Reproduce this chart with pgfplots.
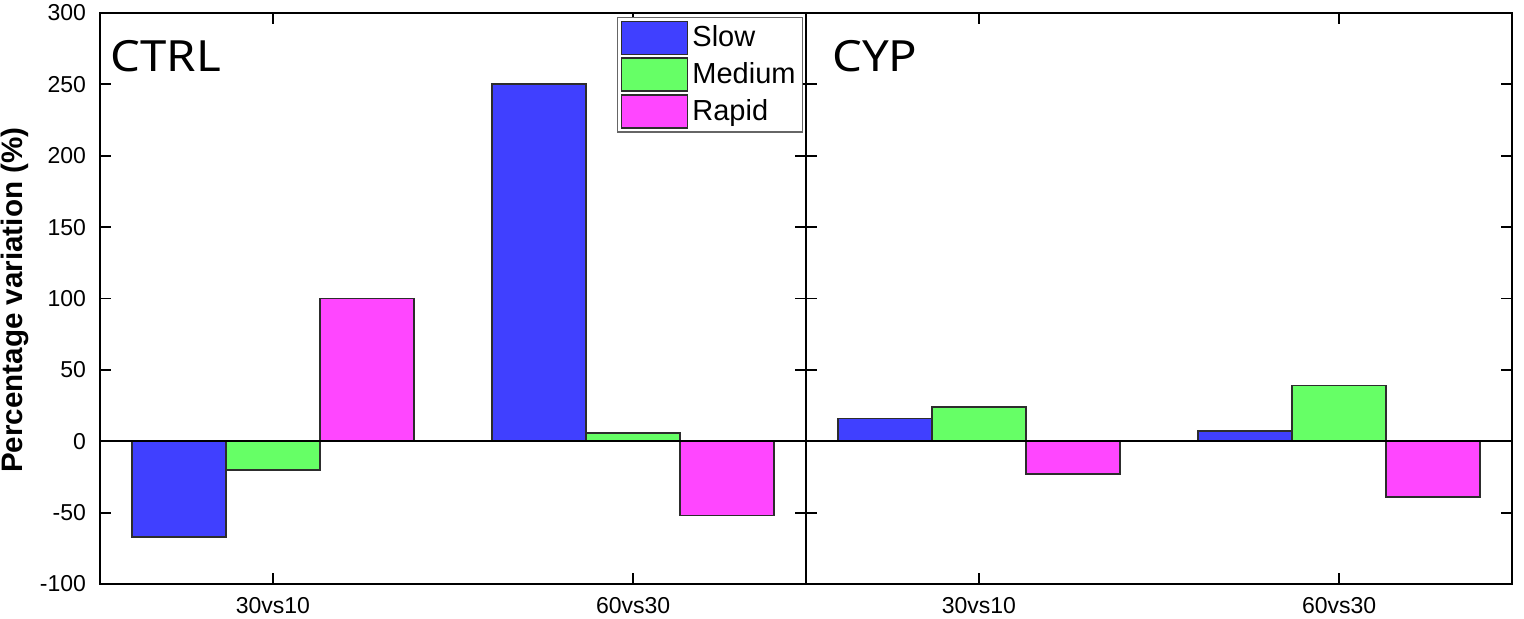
\documentclass[border=0pt]{standalone}
\usepackage{pgfplots}
\pgfplotsset{compat=1.18}
\usepgfplotslibrary{groupplots}
\usepackage{fontspec}
\setmainfont{Liberation Sans}
\newfontfamily\titlefont{Noto Sans}

\definecolor{slow}{RGB}{64,64,255}
\definecolor{medium}{RGB}{102,255,102}
\definecolor{rapid}{RGB}{255,70,255}
\definecolor{edge}{RGB}{45,45,45}

\pgfplotsset{
  panel/.style={
    scale only axis, width=353pt, height=285.5pt,
    xmin=-0.48, xmax=1.48, ymin=-100, ymax=300,
    ybar=0pt, bar width=47pt,
    xtick={0,1}, xticklabels={30vs10,60vs30},
    ytick={-100,-50,...,300},
    tick align=inside, major tick length=5.5pt,
    tick style={line width=0.9pt, black},
    axis line style={line width=0.9pt},
    every axis plot/.append style={draw=edge, line width=0.9pt},
    /pgf/number format/assume math mode=true,
    tick label style={font=\fontsize{11.5}{13}\selectfont},
    yticklabel style={xshift=-3.5pt},
    xticklabel style={yshift=-3pt},
    legend image code/.code={\draw[##1] (0pt,-8.25pt) rectangle (33pt,8.25pt);},
  },
}

\begin{document}
\begin{tikzpicture}
\begin{groupplot}[group style={group size=2 by 1, horizontal sep=0pt, y descriptions at=edge left}, panel]
\nextgroupplot[
  ylabel={\textbf{Percentage variation (\%)}},
  ylabel style={at={(axis description cs:-0.12,0.497)}, anchor=center, font=\fontsize{14.8}{16}\selectfont},
  legend style={at={(rel axis cs:0.996,0.993)}, anchor=north east, draw=black!60, line width=0.6pt,
    font=\fontsize{14.5}{16}\selectfont, row sep=1pt, inner sep=1.5pt,
    /tikz/every even column/.append style={column sep=2pt}},
  legend cell align=left,
]
\addplot[fill=slow] coordinates {(0,-67) (1,250)};
\addplot[fill=medium] coordinates {(0,-20) (1,6)};
\addplot[fill=rapid] coordinates {(0,100) (1,-52)};
\legend{Slow,Medium,Rapid}
\addplot[sharp plot, black, line width=0.9pt, forget plot] coordinates {(-0.48,0) (1.48,0)};
\node[anchor=base west, font=\titlefont\fontsize{21.5}{23}\selectfont] at (rel axis cs:0.005,0.897) {\scalebox{1.1}[1]{CTRL}};

\nextgroupplot
\addplot[fill=slow] coordinates {(0,16) (1,7)};
\addplot[fill=medium] coordinates {(0,24) (1,39)};
\addplot[fill=rapid] coordinates {(0,-23) (1,-39)};
\addplot[sharp plot, black, line width=0.9pt, forget plot] coordinates {(-0.48,0) (1.48,0)};
\node[anchor=base west, font=\titlefont\fontsize{21.5}{23}\selectfont] at (rel axis cs:0.027,0.897) {\scalebox{1.1}[1]{CYP}};
\end{groupplot}
\pgfresetboundingbox
\path (group c1r1.south west) ++(-50pt,-17.5pt) rectangle ++(762pt,309.5pt);
\end{tikzpicture}
\end{document}
